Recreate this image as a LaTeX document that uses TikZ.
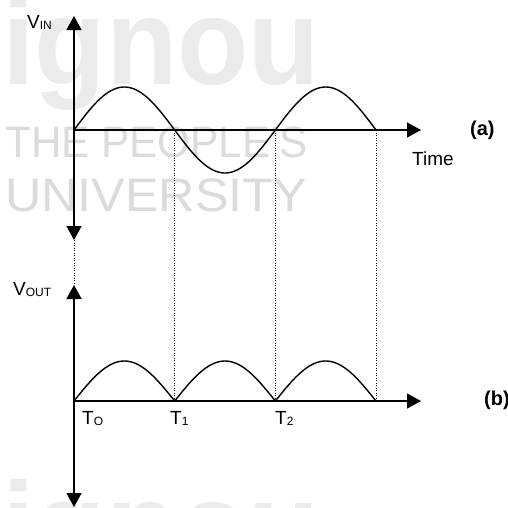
\documentclass[tikz,border=0pt]{standalone}
\usepackage{fontspec}
\setmainfont{Liberation Sans}
\usetikzlibrary{arrows.meta}
\newcommand\mysub[1]{\raisebox{-1.5pt}{\fontsize{12}{12}\selectfont #1}}
\begin{document}
\begin{tikzpicture}[x=1pt,y=-1pt,
  axis/.style={line width=1.6pt,-{Triangle[width=15pt,length=14pt]}},
  wave/.style={line width=1.4pt},
  guide/.style={line width=1pt,dash pattern=on 1.2pt off 1.3pt},
  lbl/.style={inner sep=0pt,anchor=base west,font=\fontsize{19}{19}\selectfont},
  tag/.style={lbl,font=\fontsize{20}{20}\selectfont\bfseries},
  wm/.style={inner sep=0pt,anchor=base west,text=black!14},
  wmlogo/.style={inner sep=0pt,anchor=base west,text=black!8,
    font=\fontsize{123}{123}\selectfont\bfseries}]
\useasboundingbox (0,0) rectangle (508,507);
\clip (0,0) rectangle (508,507);
% watermark
\node[wmlogo] (wm1) at (2,84) {\scalebox{0.95}[1]{ignou}};
\node[wm,font=\fontsize{44}{44}\selectfont] (wm2) at (5,157) {\scalebox{0.96}[1]{THE PEOPLE'S}};
\node[wm,font=\fontsize{47}{47}\selectfont] (wm3) at (5,211) {\scalebox{1.07}[1]{UNIVERSITY}};
\node[wmlogo] (wm4) at (2,568) {\scalebox{0.95}[1]{ignou}};
% coordinates
\coordinate (o1) at (74,130);
\coordinate (ytopA) at (74,16);
\coordinate (ybotA) at (74,240);
\coordinate (xendA) at (421,130);
\coordinate (o2) at (74,401);
\coordinate (ytopB) at (74,285);
\coordinate (ybotB) at (74,507);
\coordinate (xendB) at (421,401);
\coordinate (d1a) at (174.7,130); \coordinate (d1b) at (174.7,401);
\coordinate (d2a) at (275.3,130); \coordinate (d2b) at (275.3,401);
\coordinate (d3a) at (376,130);   \coordinate (d3b) at (376,401);
% guides
\draw[guide] (d1a) -- (d1b);
\draw[guide] (d2a) -- (d2b);
\draw[guide] (d3a) -- (d3b);
\draw[guide] (ybotA) -- (ytopB);
% axes
\draw[axis] (o1) -- (ytopA);
\draw[axis] (o1) -- (ybotA);
\draw[axis] (o1) -- (xendA);
\draw[axis] (o2) -- (ytopB);
\draw[axis] (o2) -- (ybotB);
\draw[axis] (o2) -- (xendB);
% waves
\draw[wave] plot[domain=0:302,samples=151] ({74+\x},{130-43*sin(\x/100.667*180)});
\draw[wave] plot[domain=0:302,samples=151] ({74+\x},{401-40*abs(sin(\x/100.667*180))});
% labels
\node[lbl] (vin) at (27,28) {V\mysub{IN}};
\node[lbl] (vout) at (13,295) {V\mysub{OUT}};
\node[lbl] (time) at (412,165) {Time};
\node[tag] (ta) at (470,135) {(a)};
\node[tag] (tb) at (484,405) {(b)};
\node[lbl] (t0) at (82,424) {T\mysub{O}};
\node[lbl] (t1) at (170,424) {T\mysub{1}};
\node[lbl] (t2) at (275,424) {T\mysub{2}};
\end{tikzpicture}
\end{document}
